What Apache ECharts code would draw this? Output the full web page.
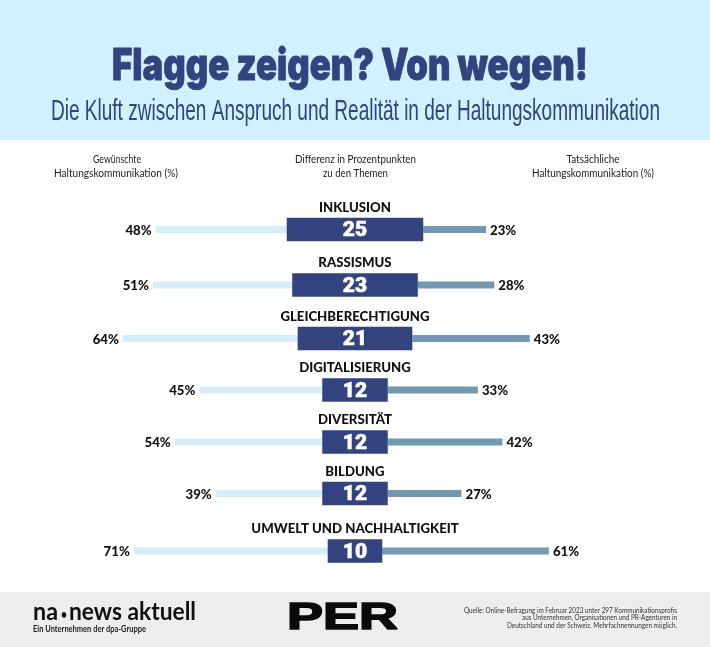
<!DOCTYPE html>
<html>
<head>
<meta charset="utf-8">
<title>Flagge zeigen? Von wegen!</title>
<script src="https://cdn.jsdelivr.net/npm/echarts@6/dist/echarts.min.js"></script>
<style>
  html, body { margin: 0; padding: 0; background: #fff; }
  #main { width: 710px; height: 647px; }
</style>
</head>
<body>
<div id="main"></div>
<script>
// data
const categories = ['INKLUSION', 'RASSISMUS', 'GLEICHBERECHTIGUNG', 'DIGITALISIERUNG', 'DIVERSITÄT', 'BILDUNG', 'UMWELT UND NACHHALTIGKEIT'];
const wanted = [48, 51, 64, 45, 54, 39, 71];
const actual = [23, 28, 43, 33, 42, 27, 61];
const difference = [25, 23, 21, 12, 12, 12, 10];

// layout: the rows are not evenly spaced in the original
const rowCenters = [229.5, 285, 338.5, 390, 442, 493.5, 551];

const DARK = '#33437f';
const LIGHT = '#d3eefb';
const MID = '#7199b3';
const BODY_FONT = 'Lato, "Open Sans", sans-serif';

const measure = document.createElement('canvas').getContext('2d');

// text squeezed to the width it has in the original, y is the baseline
function fitText(text, x, y, width, size, weight, family, fill, align, thicken) {
    measure.font = weight + ' ' + size + 'px ' + family;
    return {
        type: 'text',
        x: x,
        y: y - size * 0.34,
        scaleX: width / measure.measureText(text).width,
        style: {
            text: text, font: measure.font, fill: fill, align: align || 'center', verticalAlign: 'middle',
            stroke: thicken ? fill : null, lineWidth: thicken || 0
        }
    };
}

const grid = [], xAxis = [], yAxis = [], series = [];

categories.forEach(function (name, i) {
    grid.push({left: 0, width: 710, top: rowCenters[i] - 11.75, height: 23.5});
    xAxis.push({
        gridIndex: i, type: 'value', min: -130, max: 130, position: 'top',
        axisLine: {show: false}, axisTick: {show: false}, axisLabel: {show: false}, splitLine: {show: false},
        name: name, nameLocation: 'middle', nameGap: 4,
        nameTextStyle: {color: '#111', fontFamily: BODY_FONT, fontWeight: 900, fontSize: 13.2}
    });
    // two y axes in a row so the thin and the thick bars are both centred
    yAxis.push({gridIndex: i, type: 'category', data: [name], show: false});
    yAxis.push({gridIndex: i, type: 'category', data: [name], show: false});

    const thin = {type: 'bar', xAxisIndex: i, yAxisIndex: i * 2, stack: 'thin' + i, barWidth: 7, silent: true, z: 2};
    const thick = {type: 'bar', xAxisIndex: i, yAxisIndex: i * 2 + 1, stack: 'thick' + i, barWidth: 23.5, silent: true, z: 3,
        itemStyle: {color: DARK}};
    const pct = function (p) { return Math.abs(p.value) + '%'; };
    const pctStyle = {show: true, formatter: pct, distance: 4, offset: [0, 1], color: '#111', fontFamily: BODY_FONT, fontWeight: 900, fontSize: 13.2};

    series.push(
        Object.assign({}, thin, {data: [difference[i]], itemStyle: {color: 'transparent'}}),
        Object.assign({}, thin, {data: [-difference[i]], itemStyle: {color: 'transparent'}}),
        Object.assign({}, thin, {data: [actual[i]], itemStyle: {color: MID},
            label: Object.assign({}, pctStyle, {position: 'right'})}),
        Object.assign({}, thin, {data: [-wanted[i]], itemStyle: {color: LIGHT},
            label: Object.assign({}, pctStyle, {position: 'left'})}),
        Object.assign({}, thick, {data: [difference[i]],
            label: {show: true, position: [0, '56%'], align: 'center', verticalAlign: 'middle', color: '#fff',
                fontFamily: 'Roboto, sans-serif', fontWeight: 900, fontSize: 21,
                textBorderColor: '#fff', textBorderWidth: 0.5}}),
        Object.assign({}, thick, {data: [-difference[i]]})
    );
});

const chart = echarts.init(document.getElementById('main'), null, {renderer: 'canvas'});
chart.setOption({
    animation: false,
    backgroundColor: '#fff',
    grid: grid,
    xAxis: xAxis,
    yAxis: yAxis,
    series: series,
    graphic: [
        {type: 'rect', shape: {x: 0, y: 0, width: 710, height: 140}, style: {fill: '#d2f0ff'}},
        {type: 'rect', shape: {x: 0, y: 592, width: 710, height: 55}, style: {fill: '#eceeed'}},
        fitText('Flagge zeigen? Von wegen!', 350, 82, 476, 44, '900', 'Inter', DARK, 'center', 0.8),
        fitText('Die Kluft zwischen Anspruch und Realität in der Haltungskommunikation', 355.5, 121.7, 609, 29, 'normal', '"Liberation Sans"', DARK),
        fitText('Gewünschte', 117, 163, 48, 10.5, 'normal', BODY_FONT, '#222'),
        fitText('Haltungskommunikation (%)', 116, 177, 124, 10.5, 'normal', BODY_FONT, '#222'),
        fitText('Differenz in Prozentpunkten', 355.5, 163, 121, 10.5, 'normal', BODY_FONT, '#222'),
        fitText('zu den Themen', 355.5, 177, 65, 10.5, 'normal', BODY_FONT, '#222'),
        fitText('Tatsächliche', 593, 163, 53, 10.5, 'normal', BODY_FONT, '#222'),
        fitText('Haltungskommunikation (%)', 593, 177, 122, 10.5, 'normal', BODY_FONT, '#222'),
        fitText('na', 33, 620, 25, 24, 'bold', BODY_FONT, '#111', 'left'),
        fitText('•', 64, 619.5, 6, 14, 'bold', BODY_FONT, '#111'),
        fitText('news aktuell', 69, 620, 127, 24, 'bold', BODY_FONT, '#111', 'left'),
        fitText('Ein Unternehmen der dpa-Gruppe', 33, 632, 113, 9, 'bold', BODY_FONT, '#222', 'left'),
        fitText('PER', 287, 631, 111, 36, 'bold', '"Liberation Sans"', '#0a0a0a', 'left', 1.5),
        fitText('Quelle: Online-Befragung im Februar 2023 unter 297 Kommunikationsprofis', 677, 613, 213, 7.5, 'normal', BODY_FONT, '#333', 'right'),
        fitText('aus Unternehmen, Organisationen und PR-Agenturen in', 677, 620.5, 155, 7.5, 'normal', BODY_FONT, '#333', 'right'),
        fitText('Deutschland und der Schweiz. Mehrfachnennungen möglich.', 677, 628, 170, 7.5, 'normal', BODY_FONT, '#333', 'right')
    ]
});
</script>
</body>
</html>
